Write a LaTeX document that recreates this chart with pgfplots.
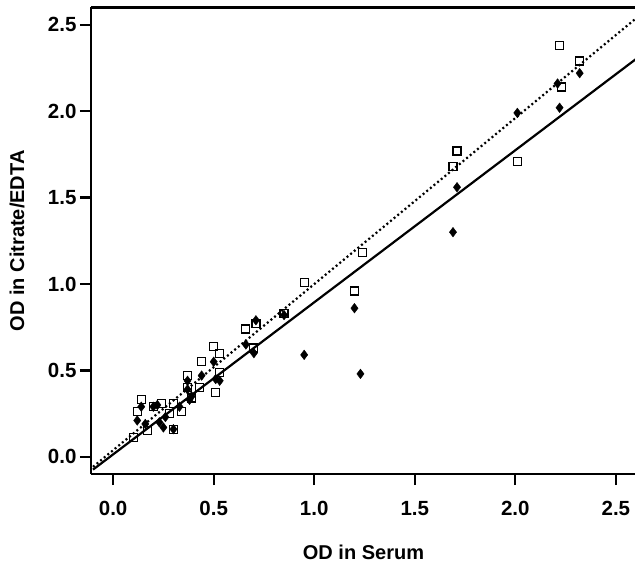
\documentclass[border=0pt]{standalone}
\usepackage{fontspec}
\setmainfont{Liberation Sans}
\usepackage{pgfplots}
\pgfplotsset{compat=1.18}

\begin{document}
\begin{tikzpicture}
\begin{axis}[
    scale only axis,
    width=545pt, height=466.6pt,
    xmin=-0.11, xmax=2.6,
    ymin=-0.1, ymax=2.6,
    axis x line*=box, axis y line*=left,
    axis line style={-, line width=2.3pt, black},
    xtick pos=left, ytick pos=left,
    xtick={0,0.5,1,1.5,2,2.5},
    ytick={0,0.5,1,1.5,2,2.5},
    tick align=outside,
    major tick length=11pt,
    major tick style={line width=2.3pt, black},
    every tick/.append style={line width=2.3pt, black},
    /pgf/number format/assume math mode=true,
    /pgf/number format/.cd, fixed, fixed zerofill, precision=1, /pgfplots/.cd,
    ticklabel style={font=\bfseries\fontsize{20.5}{24}\selectfont},
    xticklabel style={yshift=-13pt},
    label style={font=\bfseries\fontsize{20}{24}\selectfont},
    xlabel={OD in Serum},
    ylabel={OD in Citrate/EDTA},
    xlabel style={at={(axis description cs:0.5,-0.1672)}, anchor=center},
    ylabel style={at={(axis description cs:-0.1358,0.5)}, anchor=center},
    clip=false,
]
% regression lines
\addplot[black, line width=2.2pt] coordinates {(-0.1,-0.074) (2.6,2.302)};
\addplot[black, line width=2.2pt, dash pattern=on 2pt off 2.7pt] coordinates {(-0.1,-0.058) (2.6,2.537)};

% open squares
\addplot[only marks, mark=square, mark size=4pt, mark options={line width=1.2pt, black}] coordinates {
(0.10,0.11) (0.12,0.26) (0.14,0.33) (0.17,0.15) (0.20,0.29) (0.24,0.31)
(0.28,0.25) (0.30,0.31) (0.30,0.16) (0.34,0.26) (0.37,0.47) (0.37,0.40)
(0.39,0.34) (0.43,0.40) (0.44,0.55) (0.50,0.64) (0.53,0.60) (0.53,0.49)
(0.51,0.37) (0.66,0.74) (0.71,0.77) (0.70,0.63) (0.85,0.83) (0.95,1.01)
(1.20,0.96) (1.24,1.18) (1.69,1.68) (1.71,1.77) (2.01,1.71) (2.22,2.38)
(2.23,2.14) (2.32,2.29)
};

% filled diamonds
\addplot[only marks, mark=diamond*, mark size=4.8pt, mark options={black, fill=black}] coordinates {
(0.12,0.21) (0.14,0.29) (0.16,0.19) (0.20,0.29) (0.22,0.30) (0.23,0.20)
(0.25,0.17) (0.26,0.23) (0.30,0.16) (0.33,0.29) (0.37,0.44) (0.37,0.39)
(0.38,0.33) (0.39,0.35) (0.44,0.47) (0.50,0.55) (0.51,0.45) (0.53,0.44)
(0.66,0.65) (0.70,0.60) (0.71,0.79) (0.85,0.82) (0.95,0.59) (1.20,0.86)
(1.23,0.48) (1.69,1.30) (1.71,1.56) (2.01,1.99) (2.21,2.16) (2.22,2.02)
(2.32,2.22)
};

\coordinate (sw) at (rel axis cs:0,0);
\coordinate (ne) at (rel axis cs:1,1);
\end{axis}
\pgfresetboundingbox
\path[use as bounding box] ([xshift=-91pt,yshift=-93pt]sw) rectangle ([xshift=-1pt,yshift=7.5pt]ne);
\end{tikzpicture}
\end{document}
